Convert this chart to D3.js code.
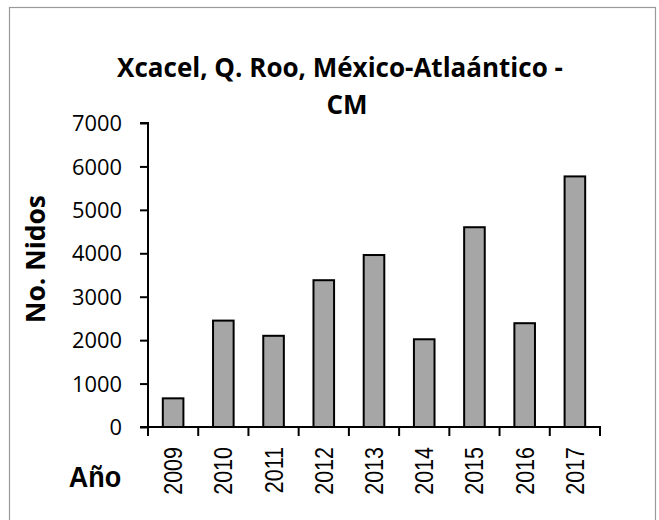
<!DOCTYPE html>
<html><head><meta charset="utf-8">
<script src="https://cdn.jsdelivr.net/npm/d3@7"></script>
<style>body{margin:0;background:#fff}svg{display:block}</style>
</head><body>
<script>
const years = ["2009","2010","2011","2012","2013","2014","2015","2016","2017"];
const nests = [660, 2450, 2100, 3380, 3960, 2020, 4600, 2390, 5770];
const yTicks = [0,1000,2000,3000,4000,5000,6000,7000];
const titleLines = ["Xcacel, Q. Roo, México-Atlaántico -", "CM"];
const yTitle = "No. Nidos";
const xTitle = "Año";

(function(){
const W = 659, H = 520;
const svg = d3.select("body").append("svg").attr("width", W).attr("height", H);
svg.append("rect").attr("x", 9.5).attr("y", 7.5).attr("width", 646).attr("height", 520)
  .attr("fill", "#fff").attr("stroke", "#999").attr("stroke-width", 1.2);

const mL = 148, mR = 600, mT = 123, mB = 427;
const x = d3.scaleBand().domain(years).range([mL, mR]).paddingInner(0.59).paddingOuter(0.295);
const y = d3.scaleLinear().domain([0, 7000]).range([mB, mT]);

const font = "'Open Sans', sans-serif";

// fit text width by adjusting font-size
function fit(sel, target) {
  const n = sel.node();
  const fs = +sel.attr("font-size");
  const w = n.getComputedTextLength();
  if (w > 0) sel.attr("font-size", (fs * target / w).toFixed(2));
  return sel;
}

svg.selectAll("rect.bar").data(nests).enter().append("rect").attr("class","bar")
  .attr("x", (d,i) => x(years[i])).attr("width", x.bandwidth())
  .attr("y", d => y(d)).attr("height", d => y(0) - y(d))
  .attr("fill", "#a6a6a6").attr("stroke", "#000").attr("stroke-width", 2);

const ya = svg.append("g").attr("transform", `translate(${mL},0)`)
  .call(d3.axisLeft(y).tickValues(yTicks).tickSize(8).tickPadding(18).tickFormat(d3.format("d")));
ya.select(".domain").attr("stroke", "#000").attr("stroke-width", 2).attr("d", `M-8,${mT}H0V${mB}H-8`);
ya.selectAll(".tick line").attr("stroke","#000").attr("stroke-width",2);
ya.selectAll("text").attr("font-family", font).attr("font-size", 20).attr("fill","#000").attr("dy","0.35em");
const t7 = ya.selectAll("text").filter(d => d === 7000);
const w7 = t7.node().getComputedTextLength();
const yfs = (20 * 50 / w7).toFixed(2);
ya.selectAll("text").attr("font-size", yfs);

const xg = svg.append("g");
xg.append("line").attr("x1", mL - 1).attr("x2", mR + 1).attr("y1", mB).attr("y2", mB)
  .attr("stroke","#000").attr("stroke-width",2);
const step = x.step();
const bounds = d3.range(years.length + 1).map(i => x(years[0]) - x.paddingOuter()*step + i*step);
xg.selectAll("line.t").data(bounds).enter().append("line").attr("class","t")
  .attr("x1", d => d).attr("x2", d => d).attr("y1", mB).attr("y2", mB + 9)
  .attr("stroke","#000").attr("stroke-width",2);
xg.selectAll("text").data(years).enter().append("text")
  .attr("transform", d => `translate(${x(d) + x.bandwidth()/2 + 9},${mB + 20}) rotate(-90) scale(0.86,1)`)
  .attr("text-anchor","end").attr("font-family","'Liberation Sans', Arial, sans-serif")
  .attr("font-size", 25).attr("fill","#000").text(d => d);

const t1 = svg.append("text").attr("x", 340).attr("y", 76.5).attr("text-anchor","middle")
  .attr("font-family", font).attr("font-weight","bold").attr("font-size", 24).attr("fill","#000").text(titleLines[0]);
fit(t1, 446);
const t2 = svg.append("text").attr("x", 347).attr("y", 114.3).attr("text-anchor","middle")
  .attr("font-family", font).attr("font-weight","bold").attr("font-size", t1.attr("font-size")).attr("fill","#000").text(titleLines[1]);
const yt = svg.append("text").attr("transform","translate(45,259) rotate(-90)").attr("text-anchor","middle")
  .attr("font-family", font).attr("font-weight","bold").attr("font-size", 24).attr("fill","#000").text(yTitle);
fit(yt, 128);
svg.append("text").attr("x", 95).attr("y", 486.7).attr("text-anchor","middle")
  .attr("font-family","'Liberation Sans', Arial, sans-serif").attr("font-weight","bold").attr("font-size", 29)
  .attr("transform","translate(95,0) scale(0.93,1) translate(-95,0)")
  .attr("fill","#000").text(xTitle);
})();
</script>
</body></html>
